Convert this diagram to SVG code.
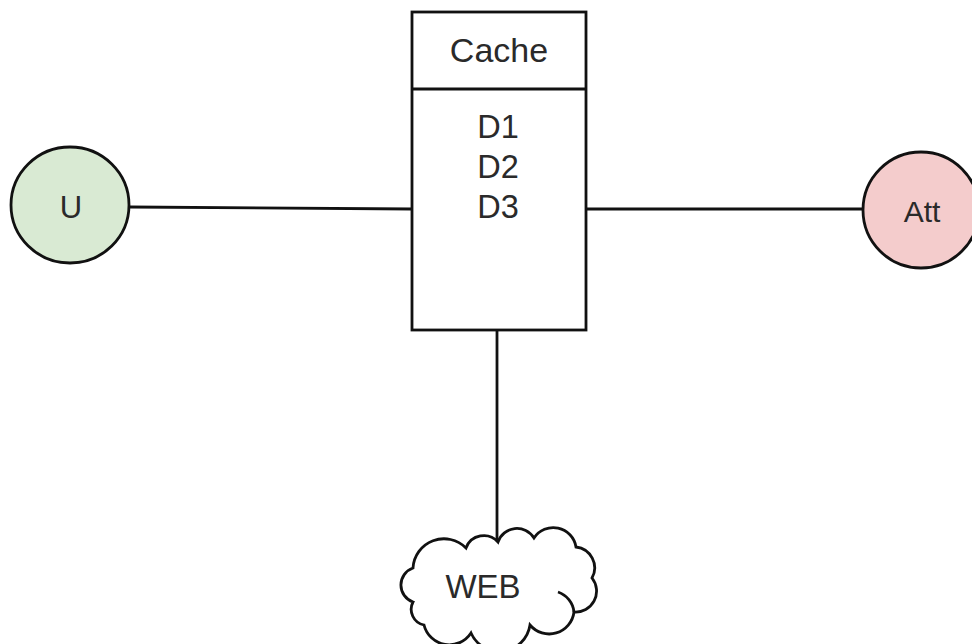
<svg xmlns="http://www.w3.org/2000/svg" width="972" height="644" viewBox="0 0 972 644">
<style>
.s{stroke:#111;stroke-width:2.8;fill:none}
.t{font-family:"Liberation Sans",Arial,sans-serif;fill:#2a2a2a;text-anchor:middle}
</style>
<rect width="972" height="644" fill="#fff"/>
<g id="connectors">
<line class="s" x1="130" y1="207" x2="412" y2="209"/>
<line class="s" x1="586" y1="209" x2="863" y2="209"/>
<line class="s" x1="497" y1="330" x2="497" y2="542"/>
</g>
<g id="cache">
<rect x="412" y="12" width="174" height="318" fill="#fff" stroke="#111" stroke-width="2.8"/>
<line class="s" x1="412" y1="89" x2="586" y2="89"/>
<text class="t" x="499" y="62" font-size="34">Cache</text>
<text class="t" x="498" y="138" font-size="32.5">D1</text>
<text class="t" x="498" y="178" font-size="32.5">D2</text>
<text class="t" x="498" y="218" font-size="32.5">D3</text>
</g>
<g id="U">
<ellipse cx="70" cy="205" rx="59" ry="58" fill="#d9ead3" stroke="#111" stroke-width="2.8"/>
<text class="t" x="71" y="218" font-size="31">U</text>
</g>
<g id="Att">
<ellipse cx="921" cy="210" rx="58" ry="58" fill="#f4cccc" stroke="#111" stroke-width="2.8"/>
<text class="t" x="922" y="222" font-size="30">Att</text>
</g>
<g id="web">
<path d="M498,542 A20,20 0 0 1 534,538 A23,23 0 0 1 576,547 A21,21 0 0 1 592,578 A21,21 0 0 1 574,612 A25,25 0 0 1 530,625 A31,31 0 0 1 471,633 A26,26 0 0 1 424,625 A16,16 0 0 1 413,602 A18,18 0 0 1 413,568 A31,31 0 0 1 466,548 A19,19 0 0 1 498,542 Z" fill="#fff" stroke="#111" stroke-width="2.8"/>
<path class="s" d="M558,592 A24,24 0 0 1 574,612"/>
<text class="t" x="483" y="598" font-size="33">WEB</text>
</g>
</svg>
